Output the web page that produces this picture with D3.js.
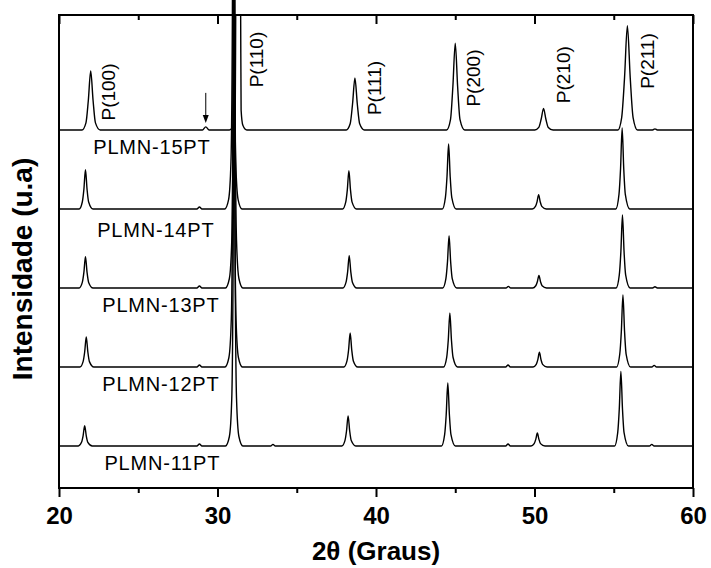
<!DOCTYPE html>
<meta charset="utf-8">
<style>
body { margin: 0; background: #fff; }
svg text { font-family: "Liberation Sans", Arial, sans-serif; fill: #000; }
.axis path.domain { display: none; }
.axis line { stroke: #000; stroke-width: 2px; }
.axis text { font-size: 24px; font-weight: bold; }
.trace { fill: none; stroke: #000; stroke-width: 1.4px; stroke-linejoin: round; }
</style>
<body>
<svg width="711" height="568"></svg>
<script src="https://cdn.jsdelivr.net/npm/d3@7"></script>
<script>

// sample names and vertical offsets (a.u.)
var samples = ["PLMN-11PT", "PLMN-12PT", "PLMN-13PT", "PLMN-14PT", "PLMN-15PT"];
var offsets = [0, 1000, 2000, 3000, 4000];

// [2theta, intensity], one list per sample
var p11 = [[20,0],
  [21.22,0],[21.42,46],[21.52,129],[21.62,257],[21.72,129],[21.82,46],[22.1,0],
  [28.7,0],[28.86,25],[29.02,0],
  [30.5,0],[30.75,120],[30.9,600],[30.99,2500],[31.05,8000],[31.11,2500],[31.2,600],[31.35,120],[31.6,0],
  [33.35,0],[33.5,20],[33.65,0],
  [37.84,0],[38.04,68],[38.14,190],[38.24,380],[38.34,190],[38.44,68],[38.72,0],
  [44.13,0],[44.33,143],[44.43,399],[44.53,797],[44.63,399],[44.73,143],[45.01,0],
  [48.18,0],[48.33,25],[48.48,0],
  [49.78,0],[49.98,30],[50.08,83],[50.18,165],[50.28,83],[50.38,30],[50.66,0],
  [55.05,0],[55.25,170],[55.35,473],[55.45,945],[55.55,473],[55.65,170],[55.93,0],
  [57.25,0],[57.4,20],[57.55,0],
  [60,0]];

var p12 = [[20,0],
  [21.32,0],[21.52,68],[21.62,190],[21.72,380],[21.82,190],[21.92,68],[22.2,0],
  [28.7,0],[28.86,25],[29.02,0],
  [30.47,0],[30.72,120],[30.87,600],[30.96,2500],[31.02,8000],[31.08,2500],[31.17,600],[31.32,120],[31.57,0],
  [37.97,0],[38.17,77],[38.27,215],[38.37,430],[38.47,215],[38.57,77],[38.85,0],
  [44.26,0],[44.46,123],[44.56,342],[44.66,684],[44.76,342],[44.86,123],[45.14,0],
  [48.18,0],[48.33,25],[48.48,0],
  [49.91,0],[50.11,33],[50.21,93],[50.31,186],[50.41,93],[50.51,33],[50.79,0],
  [55.18,0],[55.38,164],[55.48,456],[55.58,911],[55.68,456],[55.78,164],[56.06,0],
  [57.4,0],[57.55,20],[57.7,0],
  [60,0]];

var p13 = [[20,0],
  [21.27,0],[21.47,71],[21.57,198],[21.67,396],[21.77,198],[21.87,71],[22.15,0],
  [28.7,0],[28.86,25],[29.02,0],
  [30.5,0],[30.75,120],[30.9,600],[30.99,2500],[31.05,8000],[31.11,2500],[31.2,600],[31.35,120],[31.6,0],
  [37.91,0],[38.11,74],[38.21,205],[38.31,409],[38.41,205],[38.51,74],[38.79,0],
  [44.21,0],[44.41,119],[44.51,331],[44.61,662],[44.71,331],[44.81,119],[45.09,0],
  [48.2,0],[48.35,20],[48.5,0],
  [49.88,0],[50.08,28],[50.18,79],[50.28,158],[50.38,79],[50.48,28],[50.76,0],
  [55.15,0],[55.35,166],[55.45,462],[55.55,924],[55.65,462],[55.75,166],[56.03,0],
  [57.45,0],[57.6,15],[57.75,0],
  [60,0]];

var p14 = [[20,0],
  [21.27,0],[21.47,89],[21.57,249],[21.67,497],[21.77,249],[21.87,89],[22.15,0],
  [28.7,0],[28.86,25],[29.02,0],
  [30.45,0],[30.7,120],[30.85,600],[30.94,2500],[31.0,8000],[31.06,2500],[31.15,600],[31.3,120],[31.55,0],
  [37.89,0],[38.09,87],[38.19,243],[38.29,485],[38.39,243],[38.49,87],[38.77,0],
  [44.18,0],[44.38,148],[44.48,412],[44.58,823],[44.68,412],[44.78,148],[45.06,0],
  [49.86,0],[50.06,33],[50.16,91],[50.26,181],[50.36,91],[50.46,33],[50.74,0],
  [55.13,0],[55.33,185],[55.43,513],[55.53,1025],[55.63,513],[55.73,185],[56.01,0],
  [60,0]];

var p15 = [[20,0],
  [21.45,0],[21.7,90],[21.85,374],[22.0,747],[22.15,374],[22.3,90],[22.6,0],
  [29.05,0],[29.26,40],[29.47,0],
  [30.75,0],[31.0,60],[31.12,250],[31.15,1500],[31.3,6000],[31.46,1500],[31.49,250],[31.6,60],[31.85,0],
  [38.12,0],[38.37,79],[38.52,329],[38.67,658],[38.82,329],[38.97,79],[39.27,0],
  [44.45,0],[44.7,132],[44.85,550],[45.0,1100],[45.15,550],[45.3,132],[45.6,0],
  [50.02,0],[50.27,33],[50.42,136],[50.57,272],[50.72,136],[50.87,33],[51.17,0],
  [55.26,0],[55.5,158],[55.68,660],[55.86,1320],[56.04,660],[56.22,158],[56.5,0],
  [57.45,0],[57.6,15],[57.75,0],
  [60,0]];

var patterns = [p11, p12, p13, p14, p15];

// sample label anchors (2theta, intensity)
var sampleLabelX = [26.52, 26.43, 26.43, 26.11, 25.86];
var sampleLabelY = [-304, 696, 1692, 2649, 3700];

// reflection labels on the top pattern
var peakLabels = ["P(100)", "P(110)", "P(111)", "P(200)", "P(210)", "P(211)"];
var peakLabelX = [23.1, 32.47, 39.9, 46.14, 51.84, 57.1];
var peakLabelY = [4481, 4892, 4532, 4658, 4700, 4873];

// arrow marking the small extra reflection
var arrowX = 29.26, arrowFrom = 4470, arrowTo = 4090;

var majorTicks = [20, 30, 40, 50, 60];
var minorTicks = [25, 35, 45, 55];

var margin = {top: 15, right: 18, bottom: 80, left: 59},
    width = 711 - margin.left - margin.right,
    height = 568 - margin.top - margin.bottom;

var svg = d3.select("svg");
var g = svg.append("g").attr("transform", "translate(" + margin.left + "," + margin.top + ")");

var x = d3.scaleLinear().domain([20, 60]).range([0, width]);
var y = d3.scaleLinear().domain([-532, 5456]).range([height, 0]);

svg.append("defs").append("clipPath").attr("id", "plotclip")
  .append("rect").attr("width", width).attr("height", height);

patterns.forEach(function(p, i) {
  var line = d3.line()
    .x(function(d) { return x(d[0]); })
    .y(function(d) { return y(d[1] + offsets[i]); })
    .curve(d3.curveMonotoneX);
  var path = g.append("path").datum(p).attr("class", "trace").attr("d", line);
  if (i == 4) path.attr("clip-path", "url(#plotclip)");
});

// frame
g.append("rect").attr("width", width).attr("height", height)
  .attr("fill", "none").attr("stroke", "#000").attr("stroke-width", 2);

// axes
g.append("g").attr("class", "axis").attr("transform", "translate(0," + height + ")")
  .call(d3.axisBottom(x).tickValues(majorTicks).tickSize(9).tickPadding(10).tickFormat(d3.format("d")));
g.append("g").attr("class", "axis").attr("transform", "translate(0," + height + ")")
  .call(d3.axisBottom(x).tickValues(minorTicks).tickSize(5).tickFormat(""));
g.append("g").attr("class", "axis")
  .call(d3.axisTop(x).tickValues(majorTicks).tickSize(-9).tickFormat(""));
g.append("g").attr("class", "axis")
  .call(d3.axisTop(x).tickValues(minorTicks).tickSize(-5).tickFormat(""));

// sample names
g.selectAll(".sname").data(samples).enter().append("text")
  .attr("class", "sname")
  .attr("x", function(d, i) { return x(sampleLabelX[i]); })
  .attr("y", function(d, i) { return y(sampleLabelY[i]); })
  .attr("text-anchor", "middle")
  .style("font-size", "20px").style("letter-spacing", "0.8px")
  .text(function(d) { return d; });

// reflection labels
g.selectAll(".plabel").data(peakLabels).enter().append("text")
  .attr("class", "plabel")
  .attr("transform", function(d, i) { return "translate(" + x(peakLabelX[i]) + "," + y(peakLabelY[i]) + ") rotate(-90)"; })
  .attr("text-anchor", "middle").attr("dy", "0.35em")
  .style("font-size", "19px")
  .text(function(d) { return d; });

// arrow
g.append("line")
  .attr("x1", x(arrowX)).attr("x2", x(arrowX))
  .attr("y1", y(arrowFrom)).attr("y2", y(arrowTo) - 7)
  .attr("stroke", "#000").attr("stroke-width", 1);
g.append("path")
  .attr("d", "M" + (x(arrowX) - 3) + "," + (y(arrowTo) - 8) + "L" + (x(arrowX) + 3) + "," + (y(arrowTo) - 8) + "L" + x(arrowX) + "," + y(arrowTo) + "Z")
  .attr("fill", "#000");

// axis titles
svg.append("text")
  .attr("x", margin.left + width / 2).attr("y", 560)
  .attr("text-anchor", "middle")
  .style("font-size", "26px").style("font-weight", "bold")
  .text("2\u03b8 (Graus)");

svg.append("text")
  .attr("transform", "translate(32," + 269 + ") rotate(-90)")
  .attr("text-anchor", "middle")
  .style("font-size", "28px").style("font-weight", "bold")
  .text("Intensidade (u.a)");

</script>
